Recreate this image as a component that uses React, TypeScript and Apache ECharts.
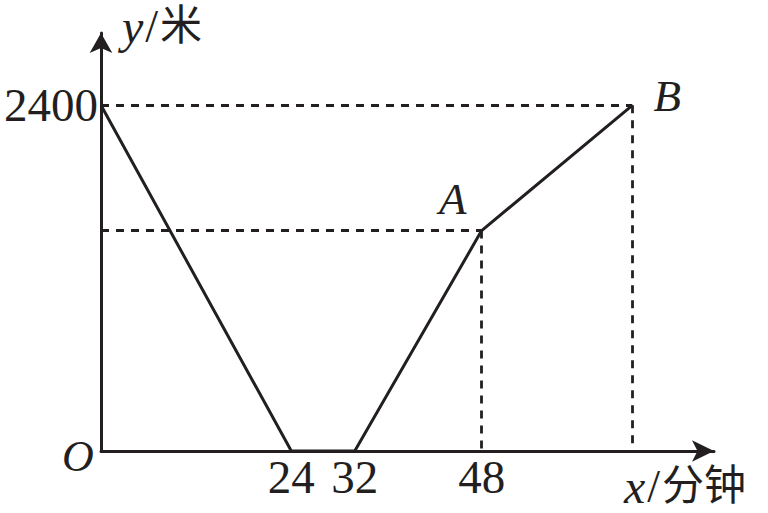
import React, { useEffect, useRef } from "react";
import * as echarts from "echarts";

// Data
const pathX = [0, 24, 32, 48, 67];
const pathY = [2400, 0, 0, 1530, 2400];
const pointNames = ["", "", "", "A", "B"];
const xTickLabels = [24, 32, 48];
const yTickLabels = [2400];
const xName = "x";
const xUnit = "分钟";
const yName = "y";
const yUnit = "米";

const INK = "#231f20";
const FONT = "'Liberation Serif', 'Noto Sans CJK SC', serif";

const nameRich = {
  i: { fontStyle: "italic", fontFamily: FONT, fontSize: 48, lineHeight: 40, fill: INK },
  s: { fontFamily: FONT, fontSize: 46, lineHeight: 40, fill: INK, padding: [0, 2, 0, 2] },
  c: { fontFamily: FONT, fontSize: 42, lineHeight: 40, fill: INK },
};

export default function App() {
  const ref = useRef<HTMLDivElement>(null);
  useEffect(() => {
    if (!ref.current) return;
    const chart = echarts.init(ref.current, undefined, { renderer: "svg" });
    const aIdx = pointNames.indexOf("A");
    const bIdx = pointNames.indexOf("B");
    const ax = pathX[aIdx], ay = pathY[aIdx];
    const bx = pathX[bIdx], by = pathY[bIdx];
    const labelOffsets: Record<string, number[]> = { A: [-29, -32], B: [35, -9] };
    const data = pathX.map((x, i) => {
      const name = pointNames[i];
      if (!name) return [x, pathY[i]];
      return {
        value: [x, pathY[i]],
        label: {
          show: true,
          formatter: name,
          position: "inside",
          offset: labelOffsets[name],
          fontFamily: FONT,
          fontStyle: "italic",
          fontSize: 45,
          color: INK,
        },
      };
    });
    chart.setOption({
      animation: false,
      backgroundColor: "#ffffff",
      grid: {
        left: 101,
        right: 54,
        top: 33,
        bottom: 62,
        containLabel: false,
        outerBoundsMode: "none",
      },
      xAxis: {
        type: "value",
        min: 0,
        max: 77.3,
        interval: 8,
        axisLine: {
          show: true,
          symbol: ["none", "arrow"],
          symbolSize: [16, 22],
          lineStyle: { color: INK, width: 3 },
        },
        axisTick: { show: false },
        splitLine: { show: false },
        axisLabel: {
          customValues: xTickLabels,
          interval: 0,
          hideOverlap: false,
          margin: 2,
          formatter: (v: number) => String(v),
          fontFamily: FONT,
          fontSize: 47,
          color: INK,
        },
      },
      yAxis: {
        type: "value",
        min: 0,
        max: 2902,
        interval: 2400,
        axisLine: {
          show: true,
          symbol: ["none", "arrow"],
          symbolSize: [17, 20],
          lineStyle: { color: INK, width: 3 },
        },
        axisTick: { show: false },
        splitLine: { show: false },
        axisLabel: {
          customValues: yTickLabels,
          interval: 0,
          hideOverlap: false,
          margin: 3,
          padding: [16, 0, 0, 0],
          formatter: (v: number) => String(v),
          fontFamily: FONT,
          fontSize: 47,
          color: INK,
        },
      },
      series: [
        {
          type: "line",
          data,
          symbol: "circle",
          symbolSize: 1,
          showSymbol: true,
          itemStyle: { color: "transparent" },
          lineStyle: { color: INK, width: 3 },
          silent: true,
          markLine: {
            silent: true,
            symbol: ["none", "none"],
            label: { show: false },
            lineStyle: { color: INK, width: 2.8, type: [8, 7] },
            data: [
              [{ coord: [0, by] }, { coord: [bx, by] }],
              [{ coord: [bx, by] }, { coord: [bx, 0] }],
              [{ coord: [0, ay] }, { coord: [ax, ay] }],
              [{ coord: [ax, ay] }, { coord: [ax, 0] }],
            ],
          },
        },
      ],
      graphic: [
        {
          type: "text",
          x: 122,
          y: 26,
          style: {
            text: "{i|" + yName + "}{s|/}{c|" + yUnit + "}",
            fontFamily: FONT,
            fontSize: 42,
            fill: INK,
            verticalAlign: "middle",
            rich: nameRich,
          },
        },
        {
          type: "text",
          x: 624,
          y: 486,
          style: {
            text: "{i|" + xName + "}{s|/}{c|" + xUnit + "}",
            fontFamily: FONT,
            fontSize: 42,
            fill: INK,
            verticalAlign: "middle",
            rich: nameRich,
          },
        },
        {
          type: "text",
          x: 78,
          y: 456,
          style: {
            text: "O",
            fontFamily: FONT,
            fontStyle: "italic",
            fontSize: 44,
            fill: INK,
            align: "center",
            verticalAlign: "middle",
          },
        },
      ],
    });
    return () => chart.dispose();
  }, []);
  return (
    <div
      ref={ref}
      style={{ position: "fixed", left: 0, top: 0, width: 768, height: 513 }}
    />
  );
}
